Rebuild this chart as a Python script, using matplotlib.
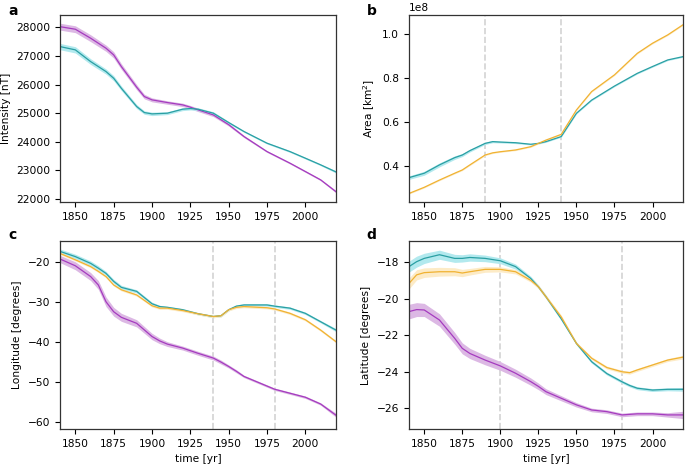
import numpy as np
import matplotlib.pyplot as plt

PURPLE = '#a53bbf'
TEAL = '#2a9fa3'
ORANGE = '#f0b232'
PURPLE_BAND = '#dcb8e4'
TEAL_BAND = '#b2e9ee'
ORANGE_BAND = '#fdebc6'

# ---------------- panel a: intensity ----------------
yr_a = [1840, 1850, 1860, 1870, 1875, 1880, 1890, 1895, 1900, 1910, 1920, 1925,
        1930, 1940, 1950, 1960, 1975, 1990, 2000, 2010, 2020]
int_purple = [28020, 27930, 27616, 27267, 27035, 26628, 25907, 25580, 25465, 25372, 25290,
              25210, 25116, 24940, 24600, 24185, 23660, 23255, 22965, 22673, 22260]
int_teal = [27325, 27210, 26800, 26453, 26220, 25870, 25232, 25022, 24976, 25000, 25140,
            25162, 25140, 25000, 24674, 24360, 23953, 23660, 23430, 23197, 22950]
int_purple_err = [120, 120, 120, 110, 110, 100, 90, 80, 70, 60, 60, 60, 60, 60, 50, 40, 30, 30, 30, 30, 40]
int_teal_err = [110, 110, 100, 90, 90, 80, 70, 60, 60, 50, 50, 50, 50, 50, 40, 30, 30, 30, 30, 30, 40]

# ---------------- panel b: area ----------------
yr_b = [1840, 1850, 1860, 1870, 1875, 1880, 1890, 1895, 1900, 1910, 1920, 1925,
        1930, 1940, 1950, 1960, 1975, 1990, 2000, 2010, 2020]
area_teal = [0.347, 0.367, 0.405, 0.438, 0.450, 0.470, 0.503, 0.511, 0.509, 0.506, 0.499,
             0.503, 0.511, 0.534, 0.640, 0.700, 0.764, 0.822, 0.853, 0.883, 0.898]
area_orange = [0.275, 0.303, 0.336, 0.367, 0.382, 0.405, 0.450, 0.460, 0.465, 0.473, 0.488,
               0.503, 0.518, 0.544, 0.655, 0.739, 0.815, 0.913, 0.959, 0.997, 1.043]
area_teal_err = [0.008, 0.009, 0.009, 0.008, 0.007, 0.006, 0.005, 0.005, 0.004, 0.004, 0.003,
                 0.003, 0.003, 0.003, 0.003, 0.003, 0.003, 0.003, 0.003, 0.003, 0.003]
area_orange_err = [0.003] * len(yr_b)

# ---------------- panel c: longitude ----------------
yr_c = [1840, 1850, 1860, 1865, 1870, 1875, 1880, 1890, 1900, 1905, 1910, 1920, 1930,
        1940, 1945, 1950, 1955, 1960, 1975, 1980, 1990, 2000, 2010, 2020]
lon_teal = [-17.3, -18.6, -20.3, -21.5, -22.8, -24.8, -26.3, -27.3, -30.4, -31.1, -31.3, -31.9,
            -32.9, -33.6, -33.4, -31.9, -31.0, -30.7, -30.7, -31.0, -31.5, -32.8, -34.9, -37.0]
lon_orange = [-17.8, -19.4, -21.1, -22.3, -23.6, -25.7, -26.9, -28.2, -30.9, -31.5, -31.5, -32.1,
              -32.9, -33.6, -33.4, -31.9, -31.3, -31.1, -31.4, -31.7, -32.8, -34.4, -37.0, -39.9]
lon_purple = [-19.2, -20.9, -23.6, -25.7, -29.9, -32.4, -33.8, -35.3, -38.6, -39.7, -40.5, -41.5,
              -42.8, -44.0, -45.0, -46.1, -47.3, -48.6, -51.0, -51.8, -52.8, -53.8, -55.5, -58.3]
lon_teal_err = [0.6, 0.6, 0.6, 0.6, 0.5, 0.5, 0.5, 0.4, 0.4, 0.3, 0.3, 0.3, 0.3, 0.3, 0.3,
                0.3, 0.3, 0.3, 0.3, 0.3, 0.3, 0.3, 0.3, 0.4]
lon_orange_err = [0.3] * len(yr_c)
lon_purple_err = [0.9, 1.0, 1.0, 1.1, 1.2, 1.1, 1.0, 0.9, 0.8, 0.7, 0.6, 0.5, 0.5, 0.5, 0.5,
                  0.4, 0.4, 0.3, 0.3, 0.3, 0.3, 0.3, 0.3, 0.5]

# ---------------- panel d: latitude ----------------
yr_d = [1840, 1845, 1850, 1860, 1870, 1875, 1880, 1890, 1900, 1910, 1920, 1925, 1930,
        1940, 1950, 1960, 1970, 1980, 1985, 1990, 2000, 2010, 2020]
lat_teal = [-18.25, -17.98, -17.8, -17.6, -17.8, -17.8, -17.75, -17.8, -17.93, -18.25, -18.9,
            -19.35, -19.9, -21.1, -22.45, -23.45, -24.1, -24.55, -24.75, -24.9, -25.0, -24.96, -24.96]
lat_orange = [-19.17, -18.7, -18.58, -18.53, -18.53, -18.6, -18.53, -18.4, -18.4, -18.53, -19.0,
              -19.35, -19.9, -21.0, -22.45, -23.26, -23.77, -24.0, -24.05, -23.9, -23.63, -23.36, -23.2]
lat_purple = [-20.71, -20.6, -20.62, -21.17, -22.17, -22.72, -23.0, -23.36, -23.68, -24.08, -24.54,
              -24.8, -25.09, -25.45, -25.81, -26.09, -26.18, -26.36, -26.33, -26.3, -26.3, -26.36, -26.36]
lat_teal_err = [0.3, 0.3, 0.28, 0.25, 0.22, 0.2, 0.2, 0.18, 0.16, 0.14, 0.12, 0.1, 0.1, 0.1,
                0.08, 0.08, 0.08, 0.08, 0.08, 0.08, 0.08, 0.08, 0.1]
lat_orange_err = [0.3, 0.28, 0.26, 0.24, 0.22, 0.2, 0.18, 0.16, 0.14, 0.12, 0.1, 0.1, 0.1, 0.1,
                  0.08, 0.08, 0.08, 0.08, 0.08, 0.08, 0.08, 0.08, 0.1]
lat_purple_err = [0.4, 0.38, 0.36, 0.34, 0.32, 0.3, 0.28, 0.26, 0.24, 0.22, 0.2, 0.18, 0.16, 0.14,
                  0.12, 0.1, 0.1, 0.1, 0.1, 0.1, 0.1, 0.12, 0.2]


def band(ax, x, y, err, line_col, band_col):
    x = np.array(x)
    y = np.array(y)
    err = np.array(err)
    ax.fill_between(x, y - err, y + err, color=band_col, lw=0)
    ax.plot(x, y, c=line_col, lw=0.9)


plt.rcParams['font.size'] = 7.7
plt.rcParams['axes.edgecolor'] = '#333333'
plt.rcParams['axes.linewidth'] = 0.9

fig = plt.figure(figsize=(6.85, 4.66), dpi=100)
ax_a = fig.add_axes([0.0876, 0.5665, 0.4029, 0.4015])
ax_b = fig.add_axes([0.5971, 0.5665, 0.3999, 0.4015])
ax_c = fig.add_axes([0.0876, 0.0794, 0.4029, 0.4034])
ax_d = fig.add_axes([0.5971, 0.0794, 0.3999, 0.4034])

# a
band(ax_a, yr_a, int_purple, int_purple_err, PURPLE, PURPLE_BAND)
band(ax_a, yr_a, int_teal, int_teal_err, TEAL, TEAL_BAND)
ax_a.set_ylim(21900, 28430)
ax_a.set_ylabel('Intensity [nT]')

# b
band(ax_b, yr_b, np.array(area_teal) * 1e8, np.array(area_teal_err) * 1e8, TEAL, TEAL_BAND)
band(ax_b, yr_b, np.array(area_orange) * 1e8, np.array(area_orange_err) * 1e8, ORANGE, ORANGE_BAND)
ax_b.set_ylim(0.236e8, 1.088e8)
ax_b.set_yticks([0.4e8, 0.6e8, 0.8e8, 1.0e8])
ax_b.set_ylabel('Area [km$^2$]')
for v in [1890, 1940]:
    ax_b.axvline(v, c='#d3d3d3', ls='--', lw=1.2, zorder=0)

# c
band(ax_c, yr_c, lon_purple, lon_purple_err, PURPLE, PURPLE_BAND)
band(ax_c, yr_c, lon_teal, lon_teal_err, TEAL, TEAL_BAND)
band(ax_c, yr_c, lon_orange, lon_orange_err, ORANGE, ORANGE_BAND)
ax_c.set_ylim(-61.75, -14.7)
ax_c.set_ylabel('Longitude [degrees]')
ax_c.set_xlabel('time [yr]')
for v in [1940, 1980]:
    ax_c.axvline(v, c='#d3d3d3', ls='--', lw=1.2, zorder=0)

# d
band(ax_d, yr_d, lat_purple, lat_purple_err, PURPLE, PURPLE_BAND)
band(ax_d, yr_d, lat_teal, lat_teal_err, TEAL, TEAL_BAND)
band(ax_d, yr_d, lat_orange, lat_orange_err, ORANGE, ORANGE_BAND)
ax_d.set_ylim(-27.13, -16.85)
ax_d.set_ylabel('Latitude [degrees]')
ax_d.set_xlabel('time [yr]')
for v in [1900, 1980]:
    ax_d.axvline(v, c='#d3d3d3', ls='--', lw=1.2, zorder=0)

for ax in [ax_a, ax_b, ax_c, ax_d]:
    ax.set_xlim(1840, 2020)
    ax.set_xticks([1850, 1875, 1900, 1925, 1950, 1975, 2000])

for lab, x, y in [('a', 0.012, 0.968), ('b', 0.535, 0.968), ('c', 0.012, 0.488), ('d', 0.535, 0.488)]:
    fig.text(x, y, lab, fontsize=10, fontweight='bold')

fig.savefig('out.png', dpi=100)
